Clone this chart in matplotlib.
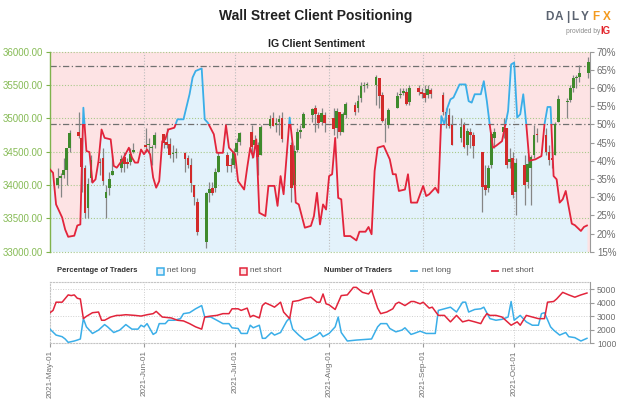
import matplotlib
matplotlib.use("Agg")
import matplotlib.dates as mdates
import matplotlib.pyplot as plt
import numpy as np
import pandas as pd
from matplotlib.lines import Line2D
from matplotlib.patches import Rectangle
from matplotlib.ticker import FuncFormatter
from matplotlib.transforms import blended_transform_factory

BLUE = "#3aaee8"
RED = "#e2243b"
PINK_BG = "#fde3e4"
BLUE_BG = "#e3f2fb"
GREEN_TXT = "#86bb55"
GREY_TXT = "#6f6f6f"
plt.rcParams["font.family"] = ["Liberation Sans", "DejaVu Sans"]

# % of clients net long (right axis)
sent_dates = [
    "05-01", "05-02", "05-03", "05-05", "05-06", "05-07", "05-09", "05-10", "05-11", "05-12",
    "05-13", "05-14", "05-15", "05-16", "05-17", "05-18", "05-19", "05-21", "05-22", "05-23",
    "05-25", "05-27", "05-28", "05-29", "05-30", "05-31", "06-01", "06-02", "06-03", "06-04",
    "06-05", "06-06", "06-07", "06-08", "06-09", "06-11", "06-12", "06-14", "06-16", "06-17",
    "06-18", "06-20", "06-21", "06-22", "06-24", "06-25", "06-27", "06-28", "06-29", "07-01",
    "07-02", "07-04", "07-05", "07-06", "07-07", "07-08", "07-09", "07-11", "07-12", "07-14",
    "07-15", "07-16", "07-17", "07-19", "07-20", "07-21", "07-22", "07-24", "07-26", "07-27",
    "07-28", "07-29", "07-30", "07-31", "08-01", "08-02", "08-03", "08-04", "08-05", "08-06",
    "08-08", "08-10", "08-11", "08-13", "08-14", "08-15", "08-16", "08-17", "08-19", "08-21",
    "08-22", "08-23", "08-24", "08-26", "08-27", "08-28", "08-30", "08-31", "09-01", "09-02",
    "09-03", "09-05", "09-06", "09-07", "09-08", "09-09", "09-10", "09-11", "09-13", "09-15",
    "09-16", "09-17", "09-18", "09-20", "09-21", "09-22", "09-23", "09-24", "09-25", "09-27",
    "09-29", "09-30", "10-01", "10-02", "10-03", "10-04", "10-05", "10-06", "10-08", "10-10",
    "10-11", "10-12", "10-13", "10-14", "10-15", "10-16", "10-17", "10-18", "10-20", "10-21",
    "10-23", "10-24", "10-25",
]
sent_pct = [
    37.6, 36.7, 28.0, 24.4, 21.1, 19.1, 19.4, 22.2, 22.5, 54.6,
    42.7, 42.4, 34.0, 34.9, 40.0, 48.6, 46.3, 45.9, 38.6, 38.1,
    40.4, 43.6, 40.9, 39.5, 39.5, 43.1, 41.8, 43.1, 41.8, 35.4,
    32.6, 34.4, 45.4, 45.9, 48.6, 49.1, 51.4, 51.4, 58.3, 62.9,
    64.7, 65.4, 51.4, 50.5, 47.3, 42.2, 42.2, 49.8, 43.6, 41.8,
    34.4, 32.1, 38.1, 43.6, 40.9, 45.9, 25.7, 24.8, 33.1, 33.1,
    27.6, 35.8, 30.8, 51.9, 44.5, 28.5, 28.0, 21.6, 22.1, 24.8,
    31.2, 22.5, 28.0, 26.6, 35.8, 36.3, 46.3, 29.8, 29.4, 19.3,
    19.3, 18.1, 20.5, 20.5, 21.8, 19.8, 37.2, 43.6, 44.1, 40.4,
    36.3, 36.3, 31.7, 32.1, 36.3, 28.5, 28.5, 30.8, 33.1, 30.3,
    30.8, 32.6, 31.2, 52.3, 50.0, 54.6, 56.9, 57.4, 61.0, 61.0,
    56.4, 56.0, 58.3, 58.3, 61.9, 56.4, 49.6, 43.6, 44.1, 45.4,
    53.7, 66.5, 67.0, 51.9, 52.8, 58.3, 50.0, 40.0, 40.4, 41.3,
    50.0, 54.8, 54.8, 35.8, 34.9, 28.5, 29.4, 31.7, 22.7, 22.3,
    20.7, 21.8, 22.2,
]

# Wall Street daily candles (trading days May 3 - Oct 25)
holidays = ["2021-05-31", "2021-07-05", "2021-09-06"]
candle_open = [
    34000, 34100, 34150, 34220, 34560, 34790, 34700, 34250, 33650, 34100,
    34330, 34400, 33800, 33950, 34150, 34250, 34420, 34350, 34350, 34500,
    34600, 34600, 34550, 34600, 34760, 34650, 34620, 34460, 34480, 34480,
    34400, 34300, 34000, 33750, 33150, 33880, 33950, 33950, 34200, 34450,
    34300, 34300,
    34500, 34650, 34800, 34600, 34600, 34450, 34880, 35000, 34900, 34950,
    35000, 34600, 34000, 34520, 34800, 34850, 35050, 35150, 35050, 34950,
    35050,
    35000, 34850, 35100, 34800, 35050, 35200, 35150, 35300, 35480, 35500,
    35500, 35600, 35350, 34900, 34900, 35150, 35350, 35380, 35400, 35250,
    35450, 35400,
    35380, 35350, 35420, 35350, 35100, 35050, 34900, 34700, 34900, 34600,
    34800, 34750, 34500, 34000, 33950, 34300, 34700, 34800, 34850, 34350,
    34400,
    33900, 34300, 34050, 34250, 34450, 34750, 34750, 34500, 34400, 34450,
    34950, 35250, 35280, 35450, 35600, 35620, 35680,
]
candle_high = [
    34250, 34180, 34400, 34560, 34820, 35090, 34720, 34300, 34100, 34450,
    34400, 34550, 34000, 34200, 34450, 34450, 34500, 34400, 34550, 34630,
    34850, 34700, 34600, 34800, 34760, 34850, 34700, 34600, 34550, 34500,
    34450, 34400, 34000, 33800, 33900, 34050, 34050, 34250, 34500, 34500,
    34400, 34550,
    34700, 34800, 34900, 34750, 34650, 34900, 35050, 35100, 35000, 35050,
    35100, 34650, 34600, 34850, 34900, 35100, 35150, 35200, 35100, 35150,
    35100,
    35150, 35150, 35100, 35100, 35250, 35250, 35350, 35550, 35550, 35550,
    35650, 35600, 35400, 35000, 35150, 35400, 35450, 35450, 35450, 35500,
    35500, 35450,
    35500, 35500, 35450, 35400, 35150, 35150, 35050, 35000, 34950, 34850,
    34850, 34800, 34500, 34300, 34300, 34800, 34850, 35000, 34850, 34550,
    34500,
    34400, 34450, 34450, 34450, 34900, 34850, 34850, 34600, 34500, 34950,
    35350, 35300, 35500, 35650, 35650, 35800, 35920,
]
candle_low = [
    33960, 33820, 34100, 34000, 34500, 34700, 33900, 33500, 33500, 34050,
    34150, 34000, 33500, 33850, 34150, 34200, 34200, 34250, 34300, 34480,
    34500, 34500, 34300, 34550, 34550, 34550, 34400, 34350, 34400, 34200,
    34250, 33900, 33700, 33250, 33050, 33750, 33850, 33900, 34200, 34200,
    34200, 34250,
    34450, 34600, 34400, 34550, 34150, 34450, 34850, 34880, 34800, 34750,
    34650, 33750, 33950, 34500, 34700, 34850, 34950, 34800, 34850, 34900,
    34800,
    34750, 34700, 34750, 34800, 35000, 35050, 35100, 35250, 35400, 35450,
    35200, 35150, 34950, 34650, 34850, 35150, 35300, 35350, 35200, 35200,
    35350, 35300,
    35250, 35300, 35300, 35050, 34850, 34850, 34600, 34650, 34550, 34450,
    34550, 34400, 33600, 33850, 33900, 34250, 34550, 34700, 34250, 34250,
    33800,
    33550, 33700, 33950, 33700, 34400, 34650, 34450, 34300, 34250, 34450,
    34950, 35000, 35250, 35400, 35450, 35550, 35600,
]
candle_close = [
    34113, 34133, 34230, 34548, 34778, 34743, 34270, 33587, 34021, 34382,
    34327, 34061, 33896, 34084, 34208, 34394, 34312, 34323, 34465, 34529,
    34575, 34600, 34577, 34756, 34630, 34600, 34447, 34467, 34480, 34394,
    34299, 34033, 33823, 33290, 33877, 33946, 33874, 34196, 34433, 34283,
    34292, 34503,
    34634, 34786, 34577, 34681, 34422, 34870, 34996, 34889, 34933, 34987,
    34688, 33962, 34512, 34798, 34823, 35061, 35144, 35059, 34930, 35085,
    34935,
    34838, 35117, 34793, 35065, 35209, 35102, 35265, 35485, 35500, 35515,
    35625, 35343, 34961, 34894, 35120, 35336, 35367, 35406, 35214, 35456,
    35400, 35361,
    35313, 35444, 35369, 35100, 35031, 34879, 34608, 34870, 34577, 34814,
    34751, 34584, 33970, 33919, 34258, 34765, 34798, 34870, 34300, 34390,
    33844,
    34326, 34002, 34315, 34417, 34755, 34746, 34496, 34378, 34377, 34912,
    35295, 35259, 35458, 35609, 35603, 35677, 35850,
]

# number of traders (bottom panel)
long_dates = [
    "05-01", "05-03", "05-05", "05-06", "05-07", "05-09", "05-10", "05-11", "05-12", "05-13",
    "05-15", "05-17", "05-19", "05-20", "05-22", "05-24", "05-26", "05-28", "05-30", "05-31",
    "06-01", "06-02", "06-04", "06-05", "06-06", "06-08", "06-09", "06-11", "06-13", "06-14",
    "06-16", "06-18", "06-20", "06-21", "06-23", "06-25", "06-27", "06-29", "06-30", "07-02",
    "07-03", "07-05", "07-06", "07-07", "07-09", "07-10", "07-11", "07-13", "07-14", "07-16",
    "07-17", "07-18", "07-19", "07-20", "07-22", "07-24", "07-26", "07-28", "07-29", "07-30",
    "07-31", "08-01", "08-03", "08-04", "08-05", "08-07", "08-10", "08-15", "08-17", "08-18",
    "08-20", "08-21", "08-23", "08-25", "08-26", "08-28", "08-29", "08-31", "09-02", "09-05",
    "09-06", "09-08", "09-10", "09-12", "09-14", "09-15", "09-16", "09-18", "09-20", "09-21",
    "09-23", "09-25", "09-27", "09-29", "09-30", "10-01", "10-03", "10-05", "10-07", "10-09",
    "10-10", "10-11", "10-13", "10-14", "10-16", "10-18", "10-19", "10-21", "10-23", "10-25",
]
long_count = [
    2050, 1610, 1490, 1320, 1070, 1170, 1240, 1320, 2830, 2220,
    1730, 1980, 2390, 2220, 1800, 1980, 2390, 2050, 2050, 2340,
    2220, 2460, 1660, 1800, 2460, 2460, 2710, 2710, 2830, 3200,
    3270, 3560, 3800, 2950, 2950, 2710, 2460, 2460, 2150, 2100,
    1730, 1730, 2340, 2150, 2340, 1370, 1370, 1800, 1610, 1800,
    2220, 2630, 2880, 2050, 1610, 1240, 1370, 1610, 1800, 1490,
    1610, 1730, 2220, 2950, 1800, 1170, 1240, 1320, 2220, 2460,
    2460, 2100, 1850, 1980, 2150, 1660, 1730, 1900, 1730, 1730,
    3440, 3560, 3680, 3320, 4050, 4050, 3320, 3510, 3560, 3680,
    2830, 2710, 2780, 2950, 4100, 2710, 3070, 2590, 2340, 2340,
    3200, 3270, 2220, 1980, 1610, 1800, 1490, 1420, 1170, 1370,
]
short_dates = [
    "05-01", "05-02", "05-03", "05-05", "05-07", "05-08", "05-09", "05-10", "05-11", "05-12",
    "05-13", "05-15", "05-17", "05-18", "05-19", "05-21", "05-23", "05-24", "05-26", "05-29",
    "05-31", "06-02", "06-04", "06-05", "06-07", "06-10", "06-12", "06-14", "06-16", "06-18",
    "06-20", "06-21", "06-23", "06-25", "06-27", "06-29", "06-30", "07-02", "07-03", "07-05",
    "07-06", "07-07", "07-09", "07-10", "07-11", "07-13", "07-14", "07-16", "07-17", "07-18",
    "07-19", "07-20", "07-22", "07-24", "07-26", "07-28", "07-29", "07-30", "07-31", "08-01",
    "08-03", "08-05", "08-07", "08-09", "08-10", "08-12", "08-14", "08-15", "08-17", "08-18",
    "08-20", "08-22", "08-23", "08-24", "08-26", "08-28", "08-29", "08-31", "09-01", "09-03",
    "09-04", "09-06", "09-08", "09-10", "09-12", "09-14", "09-16", "09-18", "09-20", "09-21",
    "09-22", "09-23", "09-25", "09-27", "09-30", "10-02", "10-03", "10-05", "10-07", "10-09",
    "10-11", "10-12", "10-14", "10-15", "10-17", "10-19", "10-21", "10-23", "10-25",
]
short_count = [
    3270, 3440, 4050, 4050, 4590, 4540, 4590, 4340, 4290, 2830,
    3000, 3270, 3320, 2710, 2710, 2950, 3070, 3070, 3120, 3070,
    3020, 3120, 3200, 3370, 2950, 2880, 2710, 2660, 2460, 2220,
    2050, 2950, 3020, 3070, 3200, 3200, 3560, 3560, 3440, 3610,
    2950, 3070, 2880, 3800, 4000, 3800, 3680, 4050, 3320, 3070,
    2830, 4100, 4170, 4340, 4420, 4050, 4050, 4660, 3930, 3850,
    3510, 4540, 4590, 5150, 5150, 4780, 4660, 4950, 3610, 3200,
    3320, 3560, 3930, 4050, 3800, 4100, 4100, 3930, 4050, 3610,
    3680, 3070, 3070, 2590, 3070, 2590, 2710, 2590, 2460, 2880,
    3200, 3070, 3070, 2950, 2340, 2590, 2340, 3070, 2950, 2830,
    2830, 4050, 4100, 4290, 4780, 4590, 4420, 4590, 4730,
]

month_starts = ["2021-05-01", "2021-06-01", "2021-07-01", "2021-08-01", "2021-09-01", "2021-10-01"]


def pct_to_price(p):
    return 33000 + (np.asarray(p, dtype=float) - 15) * 3000 / 55


def price_to_pct(v):
    return 15 + (np.asarray(v, dtype=float) - 33000) * 55 / 3000


def to_num(days):
    return mdates.date2num(pd.to_datetime(["2021-" + d for d in days]))


fig = plt.figure(figsize=(6.24, 4.05), dpi=100)
fig.patch.set_facecolor("white")
W, H = 624, 405

ax = fig.add_axes([50 / W, 1 - 251.7 / H, 540 / W, 200 / H])
axb = fig.add_axes([50 / W, 1 - 343.3 / H, 540 / W, 61.6 / H], sharex=ax)

x0 = mdates.date2num(pd.Timestamp("2021-05-01"))
x1 = mdates.date2num(pd.Timestamp("2021-10-26"))
months = mdates.date2num(pd.to_datetime(month_starts))

# ---- main panel -------------------------------------------------------
sx = to_num(sent_dates)
sy = pct_to_price(sent_pct)
ax.set_facecolor(PINK_BG)
ax.fill_between(sx, 33000, sy, color=BLUE_BG, lw=0, zorder=0.2)

for v in np.arange(33000, 36001, 500):
    ax.axhline(v, color="#a9c98a", ls=(0, (1, 1.6)), lw=0.8, zorder=0.5, clip_on=False)
for m in months[1:]:
    ax.axvline(m, color="#bdbdbd", ls=(0, (1, 1.6)), lw=0.8, zorder=0.5)
for p in (50, 66):
    ax.axhline(pct_to_price(p), color="#707070", ls=(0, (5, 2, 1, 2)), lw=0.9, zorder=0.6)

days = pd.bdate_range("2021-05-03", "2021-10-25")
days = days[~days.isin(pd.to_datetime(holidays))]
cx = mdates.date2num(days) + 0.5
o = np.array(candle_open, float)
c = np.array(candle_close, float)
hi = np.array(candle_high, float)
lo = np.array(candle_low, float)
ax.vlines(cx, lo, hi, color="#858585", lw=0.9, zorder=2)
up = c >= o
body = np.maximum(np.abs(c - o), 14)
ax.bar(cx, body, bottom=np.minimum(o, c), width=0.9,
       color=np.where(up, "#3f8a2c", "#d22a2a"), lw=0, zorder=3)

trans = blended_transform_factory(ax.transAxes, ax.transData)
mid = pct_to_price(50)
red_line, = ax.plot(sx, sy, color=RED, lw=1.3, zorder=4, solid_joinstyle="round")
red_line.set_clip_path(Rectangle((0, 30000), 1, mid - 30000, transform=trans))
blue_line, = ax.plot(sx, sy, color=BLUE, lw=1.3, zorder=4, solid_joinstyle="round")
blue_line.set_clip_path(Rectangle((0, mid), 1, 40000 - mid, transform=trans))

ax.set_xlim(x0, x1)
ax.set_ylim(33000, 36000)
ax.set_yticks(np.arange(33000, 36001, 500))
ax.yaxis.set_major_formatter(FuncFormatter(lambda v, _: f"{v:.2f}"))
ax.tick_params(axis="y", colors="#7fb24c", labelcolor=GREEN_TXT, labelsize=7,
               length=3, width=0.8, pad=2)
ax.tick_params(axis="x", bottom=False, labelbottom=False)
for s in ("top", "bottom", "right"):
    ax.spines[s].set_visible(False)
ax.spines["left"].set_color("#7fb24c")
ax.spines["left"].set_linewidth(1.0)

sec = ax.secondary_yaxis("right", functions=(price_to_pct, pct_to_price))
sec.set_yticks(np.arange(15, 71, 5))
sec.yaxis.set_major_formatter(FuncFormatter(lambda v, _: f"{v:.0f}%"))
sec.tick_params(colors="#9a9a9a", labelcolor=GREY_TXT, labelsize=7, length=3, width=0.8, pad=2)
sec.spines["right"].set_color("#9a9a9a")

# ---- bottom panel -----------------------------------------------------
axb.plot(to_num(long_dates), long_count, color=BLUE, lw=1.1, zorder=3)
axb.plot(to_num(short_dates), short_count, color=RED, lw=1.1, zorder=3)
axb.set_ylim(1000, 5570)
axb.set_yticks([1000, 2000, 3000, 4000, 5000])
for v in (2000, 3000, 4000, 5000):
    axb.axhline(v, color="#cfcfcf", ls=(0, (1, 1.6)), lw=0.7, zorder=1)
for m in months[1:]:
    axb.axvline(m, color="#cfcfcf", ls=(0, (1, 1.6)), lw=0.7, zorder=1)
axb.yaxis.tick_right()
axb.tick_params(axis="y", colors="#9a9a9a", labelcolor=GREY_TXT, labelsize=6.2,
                length=3, width=0.8, pad=2)
axb.set_xticks(months)
axb.xaxis.set_major_formatter(mdates.DateFormatter("%Y-%b-%d"))
axb.tick_params(axis="x", colors="#9a9a9a", labelcolor=GREY_TXT, labelsize=5.9,
                length=3, width=0.8, pad=2, labelrotation=90)
for s in ("top", "left", "bottom"):
    axb.spines[s].set_color("#c4c4c4")
    axb.spines[s].set_linestyle((0, (1, 1.6)))
    axb.spines[s].set_linewidth(0.8)
axb.spines["right"].set_color("#9a9a9a")
axb.set_xlim(x0, x1)

# ---- legend row -------------------------------------------------------
ly = 1 - 271 / H
txt = dict(va="center", fontsize=5.9, color="#555555")
bold = dict(va="center", fontsize=5.5, color="#333333", weight="bold")
fig.text(57 / W, ly, "Percentage of Traders", **bold)
fig.add_artist(Rectangle((157 / W, 1 - 274.5 / H), 6.5 / W, 6.5 / H, transform=fig.transFigure,
                         facecolor=BLUE_BG, edgecolor=BLUE, lw=1.1))
fig.text(167 / W, ly, "net long", **txt)
fig.add_artist(Rectangle((240 / W, 1 - 274.5 / H), 6.5 / W, 6.5 / H, transform=fig.transFigure,
                         facecolor=PINK_BG, edgecolor=RED, lw=1.1))
fig.text(250 / W, ly, "net short", **txt)
fig.text(324 / W, ly, "Number of Traders", **bold)
fig.add_artist(Line2D([411 / W, 417 / W], [ly, ly], color=BLUE, lw=1.3, transform=fig.transFigure))
fig.text(422 / W, ly, "net long", **txt)
fig.add_artist(Line2D([492 / W, 498 / W], [ly, ly], color=RED, lw=1.3, transform=fig.transFigure))
fig.text(502 / W, ly, "net short", **txt)

# ---- titles and logo --------------------------------------------------
fig.text(316 / W, 1 - 16 / H, "Wall Street Client Positioning", ha="center", va="center",
         fontsize=10, weight="bold", color="#222222")
fig.text(316 / W, 1 - 44 / H, "IG Client Sentiment", ha="center", va="center",
         fontsize=7.6, weight="bold", color="#222222")

logo = [("D", 549, "#5b6370"), ("A", 559, "#5b6370"), ("|", 567.5, "#5b6370"),
        ("L", 575, "#5b6370"), ("Y", 585, "#5b6370"), ("F", 596, "#f39a1e"), ("X", 607, "#f39a1e")]
for ch, xp, col in logo:
    fig.text(xp / W, 1 - 17 / H, ch, ha="center", va="center", fontsize=8.5,
             weight="bold", color=col)
fig.text(583 / W, 1 - 31.5 / H, "provided by", ha="center", va="center", fontsize=4.8,
         color="#8a8a8a")
fig.text(605 / W, 1 - 31.5 / H, "IG", ha="center", va="center", fontsize=7,
         weight="bold", color="#e3242b")

fig.savefig("out.png", dpi=100, facecolor="white")
